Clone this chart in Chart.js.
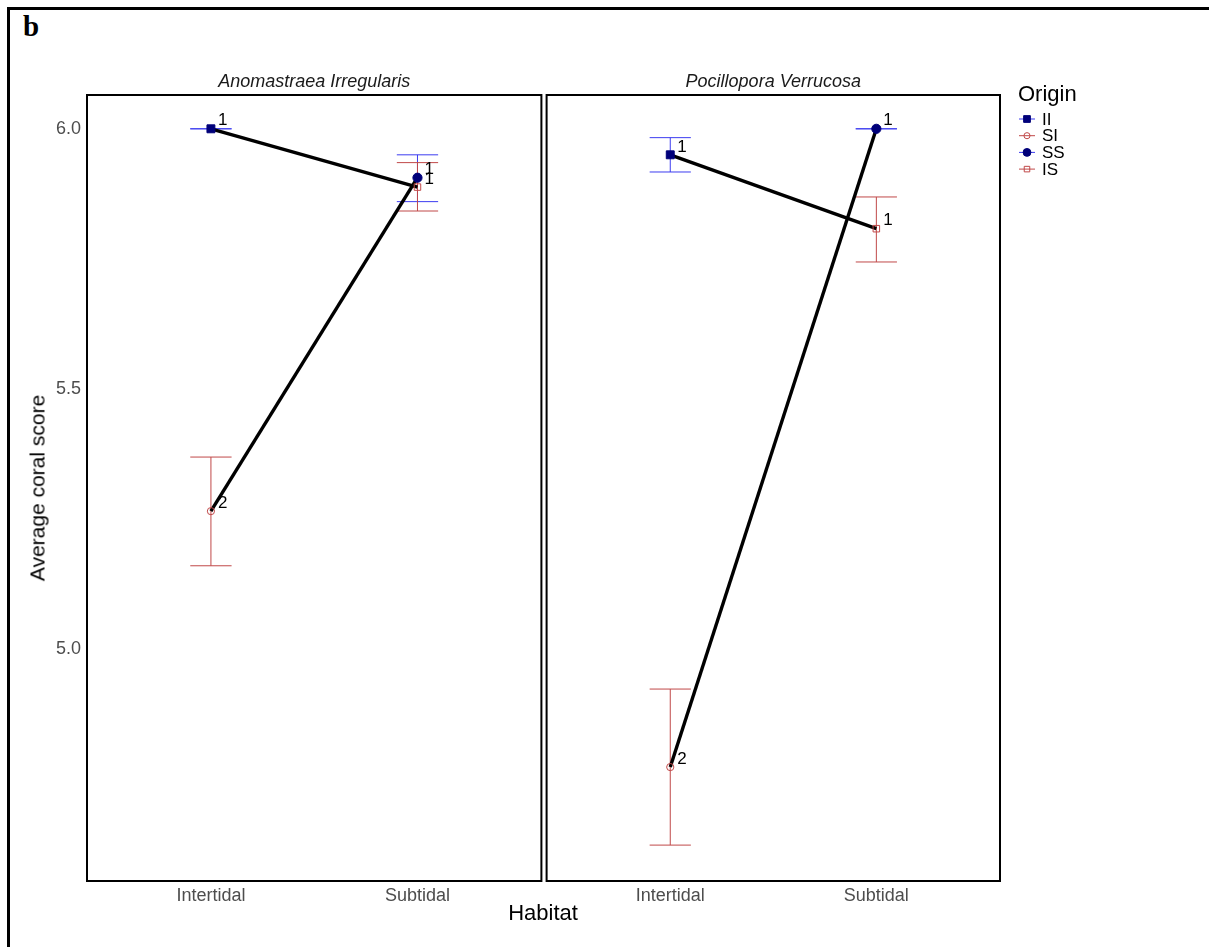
<!DOCTYPE html>
<html><head><meta charset="utf-8">
<script src="https://cdn.jsdelivr.net/npm/chart.js@4.4.1/dist/chart.umd.min.js"></script>
<style>
html,body{margin:0;padding:0;background:#fff;}
#wrap{position:relative;width:1209px;height:947px;overflow:hidden;font-family:Arial,"Liberation Sans",sans-serif;background:#fff;}
#frame{position:absolute;left:7px;top:7px;width:1300px;height:1000px;border-left:3px solid #000;border-top:3px solid #000;}
canvas{position:absolute;top:0;}
#c1{left:0}
#c2{left:540px}
#tagb{position:absolute;left:23px;top:12px;font-family:"Liberation Serif","Times New Roman",serif;font-weight:bold;font-size:29px;line-height:1;color:#000;}
#xt{position:absolute;left:443px;width:200px;text-align:center;top:902px;font-size:22px;line-height:1;color:#000;}
#yt{position:absolute;left:37px;top:488px;font-size:21px;line-height:1;color:#000;white-space:nowrap;transform:translate(-50%,-50%) rotate(-90deg);}
</style></head>
<body><div id="wrap">
<div id="frame"></div>
<div id="tagb">b</div>
<canvas id="c1" width="548" height="947"></canvas>
<canvas id="c2" width="666" height="947"></canvas>
<div id="xt">Habitat</div>
<div id="yt">Average coral score</div>
</div>
<script>
// ---- data ----
const habitats = ['Intertidal', 'Subtidal'];
const species = ['Anomastraea Irregularis', 'Pocillopora Verrucosa'];
const origins = ['II', 'SI', 'SS', 'IS'];
const originHabitat = [1, 1, 2, 2];           // category position (1 = Intertidal, 2 = Subtidal)
const linkedOrigins = [[0, 3], [1, 2]];        // II -> IS, SI -> SS
const anomMean  = [6.000, 5.265, 5.906, 5.888];
const anomLo    = [6.000, 5.160, 5.860, 5.842];
const anomHi    = [6.000, 5.369, 5.950, 5.935];
const anomGroup = ['1', '2', '1', '1'];
const pociMean  = [5.950, 4.773, 6.000, 5.808];
const pociLo    = [5.917, 4.623, 6.000, 5.744];
const pociHi    = [5.983, 4.923, 6.000, 5.869];
const pociGroup = ['1', '2', '1', '1'];
const yTicks = [5.0, 5.5, 6.0];
const yMin = 4.554, yMax = 6.065;

// ---- styles ----
const FONT = 'Arial, "Liberation Sans", sans-serif';
const BLUE = '#3c3cf0', RED = '#c04848', NAVY = '#00007a';
const pointStyles = [
  {pointStyle: 'rect', radius: 5.6, backgroundColor: NAVY, borderColor: NAVY, borderWidth: 1, line: BLUE},
  {pointStyle: 'circle', radius: 3.6, backgroundColor: 'rgba(0,0,0,0)', borderColor: RED, borderWidth: 1, line: RED},
  {pointStyle: 'circle', radius: 4.6, backgroundColor: NAVY, borderColor: NAVY, borderWidth: 1, line: BLUE},
  {pointStyle: 'rect', radius: 4.6, backgroundColor: 'rgba(0,0,0,0)', borderColor: RED, borderWidth: 1, line: RED}
];
const errColors = [BLUE, RED, BLUE, RED];

function buildChart(canvasId, idx, means, lo, hi, groups, showY, padding, withLegend) {
  const datasets = [];
  linkedOrigins.forEach(pair => {
    datasets.push({
      type: 'line',
      data: pair.map(i => ({x: originHabitat[i], y: means[i]})),
      borderColor: '#000', borderWidth: 3.4, pointRadius: 0, fill: false, order: 2
    });
  });
  origins.forEach((o, i) => {
    const s = pointStyles[i];
    datasets.push({
      type: 'scatter', label: o,
      data: [{x: originHabitat[i], y: means[i]}],
      pointStyle: s.pointStyle, pointRadius: s.radius, pointHoverRadius: s.radius,
      pointBackgroundColor: s.backgroundColor, pointBorderColor: s.borderColor, pointBorderWidth: s.borderWidth,
      order: 1
    });
  });

  const panelPlugin = {
    id: 'panel' + idx,
    beforeDatasetsDraw(chart) {
      const ctx = chart.ctx, xs = chart.scales.x, ys = chart.scales.y;
      ctx.save();
      ctx.lineWidth = 1;
      origins.forEach((o, i) => {
        const px = xs.getPixelForValue(originHabitat[i]);
        const x0 = xs.getPixelForValue(originHabitat[i] - 0.1);
        const x1 = xs.getPixelForValue(originHabitat[i] + 0.1);
        const yl = ys.getPixelForValue(lo[i]), yh = ys.getPixelForValue(hi[i]);
        ctx.strokeStyle = errColors[i];
        ctx.beginPath();
        ctx.moveTo(px, yl); ctx.lineTo(px, yh);
        ctx.moveTo(x0, yl); ctx.lineTo(x1, yl);
        ctx.moveTo(x0, yh); ctx.lineTo(x1, yh);
        ctx.stroke();
      });
      ctx.restore();
    },
    afterDatasetsDraw(chart) {
      const ctx = chart.ctx, xs = chart.scales.x, ys = chart.scales.y;
      ctx.save();
      ctx.fillStyle = '#000';
      ctx.font = '17px ' + FONT;
      ctx.textAlign = 'left';
      ctx.textBaseline = 'middle';
      origins.forEach((o, i) => {
        const px = xs.getPixelForValue(originHabitat[i]);
        const py = ys.getPixelForValue(means[i]);
        ctx.fillText(groups[i], px + 7, py - 8);
      });
      // panel frame
      const a = chart.chartArea;
      ctx.strokeStyle = '#000';
      ctx.lineWidth = 2;
      ctx.strokeRect(a.left, a.top, a.right - a.left, a.bottom - a.top);
      // strip title
      ctx.font = 'italic 18px ' + FONT;
      ctx.fillStyle = '#1a1a1a';
      ctx.textAlign = 'center';
      ctx.fillText(species[idx], (a.left + a.right) / 2, a.top - 13);
      if (withLegend) {
        const lx = a.right + 18;
        ctx.textAlign = 'left';
        ctx.fillStyle = '#000';
        ctx.font = '22px ' + FONT;
        ctx.fillText('Origin', lx, a.top);
        ctx.font = '17px ' + FONT;
        origins.forEach((o, i) => {
          const y = a.top + 24 + i * 16.7;
          const s = pointStyles[i];
          ctx.strokeStyle = s.line; ctx.lineWidth = 1;
          ctx.beginPath(); ctx.moveTo(lx + 1, y); ctx.lineTo(lx + 17, y); ctx.stroke();
          ctx.fillStyle = s.backgroundColor; ctx.strokeStyle = s.borderColor; ctx.lineWidth = 1;
          Chart.helpers.drawPoint(ctx, {pointStyle: s.pointStyle, radius: s.radius * 0.85, borderWidth: 1, rotation: 0},
            lx + 9, y);
          ctx.fillStyle = '#000';
          ctx.fillText(o, lx + 24, y + 1);
        });
      }
      ctx.restore();
    }
  };

  return new Chart(document.getElementById(canvasId), {
    type: 'scatter',
    data: {datasets},
    options: {
      responsive: false, animation: false, events: [],
      layout: {padding},
      plugins: {legend: {display: false}, tooltip: {enabled: false}, title: {display: false}},
      scales: {
        x: {
          type: 'linear', min: 0.4, max: 2.6,
          grid: {display: false, drawTicks: false}, border: {display: false},
          afterBuildTicks: s => { s.ticks = habitats.map((h, i) => ({value: i + 1})); },
          afterFit: s => { s.height = 40; s.paddingLeft = 0; s.paddingRight = 0; },
          ticks: {autoSkip: false, padding: 4, color: '#4d4d4d', font: {family: FONT, size: 18},
            callback: v => habitats[v - 1]}
        },
        y: {
          type: 'linear', min: yMin, max: yMax, display: showY,
          grid: {display: false, drawTicks: false}, border: {display: false},
          afterBuildTicks: s => { s.ticks = yTicks.map(v => ({value: v})); },
          afterFit: s => { s.width = showY ? 87 : 0; s.paddingTop = 0; s.paddingBottom = 0; },
          ticks: {padding: 6, color: '#4d4d4d', font: {family: FONT, size: 18},
            callback: v => Number(v).toFixed(1)}
        }
      }
    },
    plugins: [panelPlugin]
  });
}

buildChart('c1', 0, anomMean, anomLo, anomHi, anomGroup, true, {left: 0, right: 2, top: 95, bottom: 26}, false);
buildChart('c2', 1, pociMean, pociLo, pociHi, pociGroup, false, {left: 0, right: 206, top: 95, bottom: 26}, true);
</script>
</body></html>
